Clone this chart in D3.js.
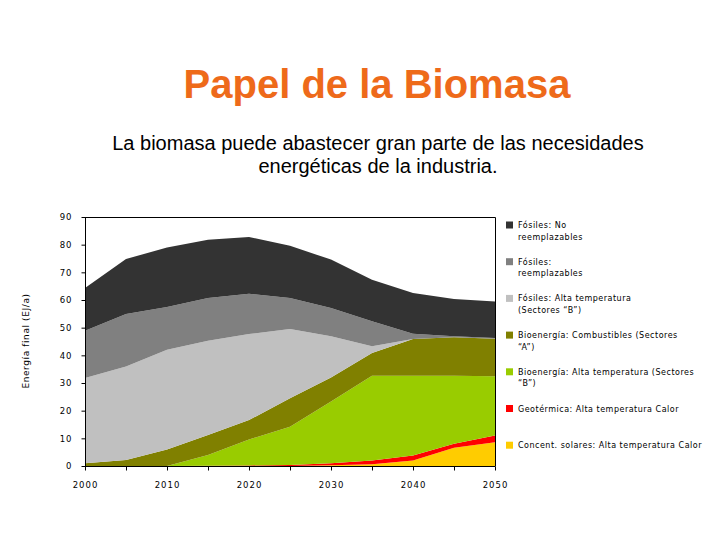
<!DOCTYPE html>
<html>
<head>
<meta charset="utf-8">
<script src="https://cdn.jsdelivr.net/npm/d3@7"></script>
<style>
  html, body { margin: 0; padding: 0; background: #ffffff; }
  svg { display: block; }
</style>
</head>
<body>
<svg id="chart" width="720" height="540"></svg>
<script>
// ---- data (EJ/a) ----
const years = [2000, 2005, 2010, 2015, 2020, 2025, 2030, 2035, 2040, 2045, 2050];
const solar        = [0, 0, 0, 0, 0, 0, 0.3, 0.6, 2.0, 6.6, 8.6];
const geotermica   = [0, 0, 0, 0.1, 0.2, 0.4, 0.7, 1.4, 1.8, 1.4, 2.4];
const bioAltaTemp  = [0, 0, 0, 3.9, 9.4, 13.8, 22.3, 30.6, 28.8, 24.6, 21.4];
const bioCombust   = [1.0, 2.2, 6.0, 7.2, 7.0, 10.3, 8.7, 8.2, 13.3, 13.9, 13.6];
const fosAltaTemp  = [30.8, 33.8, 36.0, 34.1, 31.1, 25.0, 14.9, 2.5, 0, 0, 0];
const fosReempl    = [17.1, 18.9, 15.5, 15.4, 14.6, 11.2, 10.2, 9.0, 1.9, 0.4, 0.3];
const fosNoReempl  = [15.4, 19.9, 21.5, 21.1, 20.5, 18.9, 17.5, 15.0, 14.7, 13.5, 13.2];

const seriesKeys = ["solar", "geo", "bioB", "bioA", "fosB", "fosR", "fosN"];
const seriesValues = [solar, geotermica, bioAltaTemp, bioCombust, fosAltaTemp, fosReempl, fosNoReempl];
const seriesColors = ["#FFCC00", "#FF0000", "#99CC00", "#808000", "#C0C0C0", "#808080", "#333333"];
// legend (top to bottom), line breaks marked with \n
const legendKeys = ["fosN", "fosR", "fosB", "bioA", "bioB", "geo", "solar"];
const legendLabels = [
  "Fósiles: No\nreemplazables",
  "Fósiles:\nreemplazables",
  "Fósiles: Alta temperatura\n(Sectores “B”)",
  "Bioenergía: Combustibles (Sectores\n“A”)",
  "Bioenergía: Alta temperatura (Sectores\n“B”)",
  "Geotérmica: Alta temperatura Calor",
  "Concent. solares: Alta temperatura Calor"
];
const yTickValues = [0, 10, 20, 30, 40, 50, 60, 70, 80, 90];
const xTickLabels = [2000, 2010, 2020, 2030, 2040, 2050];
const xMinorTicks = [2000, 2005, 2010, 2015, 2020, 2025, 2030, 2035, 2040, 2045, 2050];
const titleText = "Papel de la Biomasa";
const subtitleLines = ["La biomasa puede abastecer gran parte de las necesidades", "energéticas de la industria."];
const yAxisTitle = "Energía final (EJ/a)";

// ---- layout ----
const svg = d3.select("#chart");
const pLeft = 85, pRight = 495, pTop = 217, pBottom = 466;
const x = d3.scaleLinear().domain([2000, 2050]).range([pLeft, pRight]);
const y = d3.scaleLinear().domain([0, 90]).range([pBottom, pTop]);

// title
svg.append("text")
  .attr("x", 377).attr("y", 98)
  .attr("text-anchor", "middle")
  .attr("font-family", "'Liberation Sans', Arial, sans-serif")
  .attr("font-weight", "bold")
  .attr("font-size", 40)
  .attr("fill", "#EE6A1A")
  .text(titleText);

svg.append("g").selectAll("text").data(subtitleLines).join("text")
  .attr("x", 378).attr("y", (d, i) => 150 + i * 23)
  .attr("text-anchor", "middle")
  .attr("font-family", "'Liberation Sans', Arial, sans-serif")
  .attr("font-size", 20)
  .attr("fill", "#000")
  .text(d => d);

// data rows & stack
const rows = years.map((yr, i) => {
  const r = { year: yr };
  seriesKeys.forEach((k, j) => r[k] = seriesValues[j][i]);
  return r;
});
const stacked = d3.stack().keys(seriesKeys)(rows);
const color = d3.scaleOrdinal().domain(seriesKeys).range(seriesColors);

// frame (top & right)
svg.append("path")
  .attr("d", `M${pLeft},${pTop + 0.5}H${pRight + 0.5}V${pBottom}`)
  .attr("fill", "none").attr("stroke", "#000").attr("stroke-width", 1);

const area = d3.area()
  .x(d => x(d.data.year))
  .y0(d => y(d[0]))
  .y1(d => y(d[1]));

svg.append("g").selectAll("path").data(stacked).join("path")
  .attr("d", area)
  .attr("fill", d => color(d.key))
  .attr("stroke", "none");

// axes
const axisFont = "'DejaVu Sans', Verdana, sans-serif";
const yAxis = svg.append("g")
  .attr("transform", `translate(${pLeft + 0.5},0)`)
  .call(d3.axisLeft(y).tickValues(yTickValues).tickSize(4).tickPadding(9).tickFormat(d3.format("d")));
yAxis.select(".domain").attr("d", `M0,${pTop}V${pBottom + 0.5}`);
yAxis.selectAll("text").attr("font-family", axisFont).attr("font-size", 8.5).attr("letter-spacing", "1px");

const xAxis = svg.append("g")
  .attr("transform", `translate(0,${pBottom + 0.5})`)
  .call(d3.axisBottom(x).tickValues(xMinorTicks).tickSize(4).tickPadding(11)
    .tickFormat(d => xTickLabels.includes(d) ? String(d) : ""));
xAxis.select(".domain").attr("d", `M${pLeft},0H${pRight + 0.5}`);
xAxis.selectAll("text").attr("font-family", axisFont).attr("font-size", 8.5).attr("letter-spacing", "1px");

// y axis title
svg.append("text")
  .attr("transform", "translate(29,341) rotate(-90)")
  .attr("text-anchor", "middle")
  .attr("font-family", axisFont)
  .attr("font-size", 9)
  .attr("letter-spacing", "0.6px")
  .text(yAxisTitle);

// legend
const legend = svg.append("g");
legendKeys.forEach((k, i) => {
  const cy = 225 + i * 36.7;
  legend.append("rect")
    .attr("x", 506).attr("y", cy - 3.5).attr("width", 7).attr("height", 7)
    .attr("fill", color(k));
  const t = legend.append("text")
    .attr("x", 518).attr("y", cy + 3)
    .attr("font-family", axisFont)
    .attr("font-size", 8)
    .attr("letter-spacing", "0.5px");
  legendLabels[i].split("\n").forEach((line, j) => {
    t.append("tspan").attr("x", 518).attr("dy", j === 0 ? 0 : 11.5).text(line);
  });
});
</script>
</body>
</html>
